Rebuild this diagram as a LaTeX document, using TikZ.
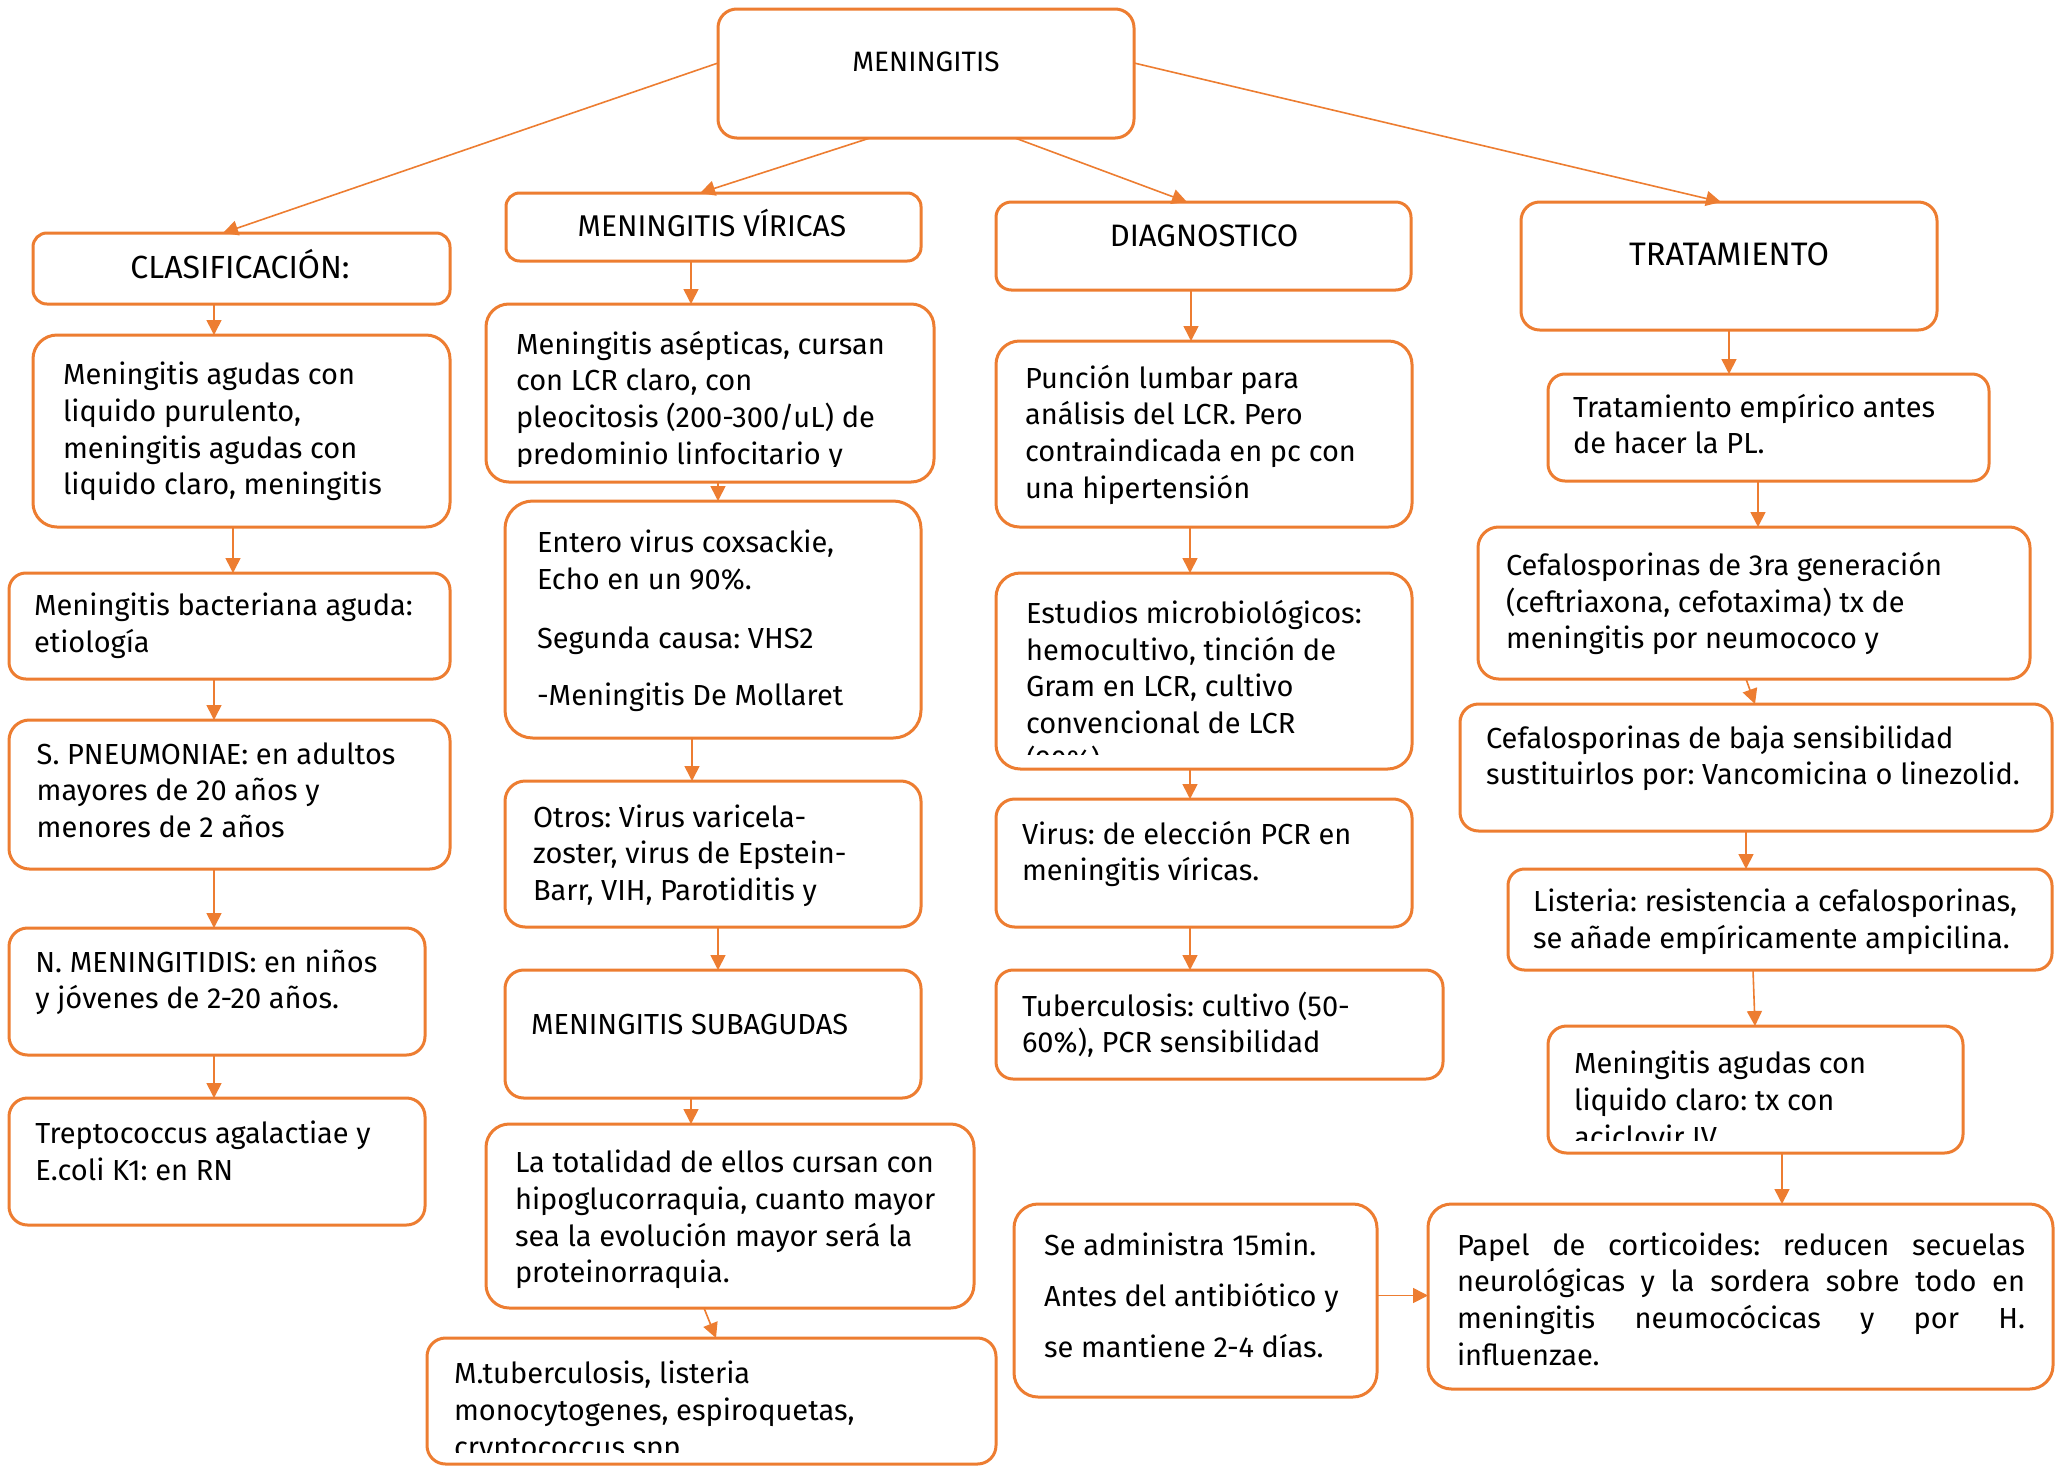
\documentclass[tikz,border=0pt]{standalone}
\usepackage{fontspec}
\setmainfont{Fira Sans}
\usetikzlibrary{arrows.meta}
\definecolor{orng}{HTML}{ED7D31}
\frenchspacing
\newcommand{\rbox}[5]{%
  \pgfmathsetmacro{\rbw}{#4-#2}%
  \pgfmathsetmacro{\rbh}{#5-#3}%
  \pgfmathsetmacro{\rbr}{8+\rbh/12}%
  \node[boxst, minimum width=\rbw pt, minimum height=\rbh pt, rounded corners=\rbr pt] (#1) at ({(#2+#4)/2},{(#3+#5)/2}) {};%
}
\tikzset{
  boxst/.style={draw=orng, line width=3pt, inner sep=0pt, outer sep=0pt, fill=white},
  conn/.style={draw=orng, line width=1.6pt, -{Triangle[length=15pt,width=15pt]}},
  txt/.style={inner sep=0pt, outer sep=0pt, align=left, anchor=north west, yshift=20.5pt,
    execute at begin node={\rule{0pt}{24pt}}, font=\fontsize{29}{36.7}\selectfont},
  head/.style={inner sep=0pt, outer sep=0pt, anchor=base, font=\fontsize{#1}{#1}\selectfont},
}
\begin{document}
\begin{tikzpicture}[x=1pt,y=-1pt]
\fill[white] (0,0) rectangle (2055,1465);
\useasboundingbox (0,0) rectangle (2055,1465);
% top level
\rbox{M0}{718}{9}{1134}{138}
\rbox{C1}{33}{233}{450}{304}
\rbox{V1}{506}{193}{921}{261}
\rbox{D1}{996}{202}{1411}{290}
\rbox{T1}{1521}{202}{1937}{330}
% left column
\rbox{L1}{33}{335}{450}{527}
\rbox{L2}{9}{573}{450}{679}
\rbox{L3}{9}{720}{450}{869}
\rbox{L4}{9}{928}{425}{1055}
\rbox{L5}{9}{1098}{425}{1225}
% middle column
\rbox{V2}{486}{304}{934}{482}
\rbox{V3}{505}{501}{921}{738}
\rbox{V4}{505}{781}{921}{927}
\rbox{V5}{505}{970}{921}{1098}
\rbox{V6}{486}{1124}{974}{1308}
\rbox{V7}{427}{1338}{996}{1464}
% third column
\rbox{D2}{996}{341}{1412}{527}
\rbox{D3}{996}{573}{1412}{769}
\rbox{D4}{996}{799}{1412}{927}
\rbox{D5}{996}{970}{1443}{1079}
\rbox{D6}{1014}{1204}{1377}{1397}
% fourth column
\rbox{T2}{1548}{374}{1989}{481}
\rbox{T3}{1478}{527}{2030}{679}
\rbox{T4}{1460}{704}{2052}{831}
\rbox{T5}{1508}{869}{2052}{970}
\rbox{T6}{1548}{1026}{1963}{1153}
\rbox{T7}{1428}{1204}{2053}{1389}

% headings
\node[head=28] (hM0) at (926,71.7) {MENINGITIS};
\node[head=32] (hC1) at (240,278) {CLASIFICACIÓN:};
\node[head=30] (hV1) at (712,236.7) {MENINGITIS VÍRICAS};
\node[head=31] (hD1) at (1204,246.7) {DIAGNOSTICO};
\node[head=32.5] (hT1) at (1729,265) {TRATAMIENTO};
\node[head=29, anchor=base west] (hV5) at (531,1034) {MENINGITIS SUBAGUDAS};

% body texts
\node[txt] (tL1) at (63,382.7) {Meningitis agudas con\\liquido purulento,\\meningitis agudas con\\liquido claro, meningitis};
\node[txt] (tL2) at (34,613.5) {Meningitis bacteriana aguda:\\etiología};
\node[txt] (tL3) at (36.7,763) {S. PNEUMONIAE: en adultos\\mayores de 20 años y\\menores de 2 años};
\node[txt] (tL4) at (35.4,970) {N. MENINGITIDIS: en niños\\y jóvenes de 2-20 años.};
\node[txt] (tL5) at (35.4,1141.7) {Treptococcus agalactiae y\\E.coli K1: en RN};

\begin{scope}
\clip (486,304) rectangle (934,466);
\node[txt] (tV2) at (516,351.5) {Meningitis asépticas, cursan\\con LCR claro, con\\pleocitosis (200-300/uL) de\\predominio linfocitario y};
\end{scope}
\node[txt] (tV3) at (537,550.7) {Entero virus coxsackie,\\Echo en un 90\%.\\[22pt]Segunda causa: VHS2\\[21pt]-Meningitis De Mollaret};
\node[txt] (tV4) at (533,825) {Otros: Virus varicela-\\zoster, virus de Epstein-\\Barr, VIH, Parotiditis y};
\node[txt] (tV6) at (515,1170.5) {La totalidad de ellos cursan con\\hipoglucorraquia, cuanto mayor\\sea la evolución mayor será la\\proteinorraquia.};
\begin{scope}
\clip (427,1338) rectangle (996,1452);
\node[txt] (tV7) at (454,1381.7) {M.tuberculosis, listeria\\monocytogenes, espiroquetas,\\cryptococcus spp};
\end{scope}

\node[txt] (tD2) at (1025,385.5) {Punción lumbar para\\análisis del LCR. Pero\\contraindicada en pc con\\una hipertensión};
\begin{scope}
\clip (996,573) rectangle (1412,754);
\node[txt] (tD3) at (1026,620.7) {Estudios microbiológicos:\\hemocultivo, tinción de\\Gram en LCR, cultivo\\convencional de LCR\\(90\%)};
\end{scope}
\node[txt] (tD4) at (1022,841.5) {Virus: de elección PCR en\\meningitis víricas.};
\node[txt] (tD5) at (1022,1012) {Tuberculosis: cultivo (50-\\60\%), PCR sensibilidad};
\node[txt, font=\fontsize{29}{51}\selectfont] (tD6) at (1044,1253) {Se administra 15min.\\Antes del antibiótico y\\se mantiene 2-4 días.};

\node[txt] (tT2) at (1573,414.3) {Tratamiento empírico antes\\de hacer la PL.};
\node[txt] (tT3) at (1506,572.7) {Cefalosporinas de 3ra generación\\(ceftriaxona, cefotaxima) tx de\\meningitis por neumococo y};
\node[txt] (tT4) at (1486,745.9) {Cefalosporinas de baja sensibilidad\\sustituirlos por: Vancomicina o linezolid.};
\node[txt] (tT5) at (1533,909.7) {Listeria: resistencia a cefalosporinas,\\se añade empíricamente ampicilina.};
\begin{scope}
\clip (1548,1026) rectangle (1963,1140);
\node[txt] (tT6) at (1574,1071.7) {Meningitis agudas con\\liquido claro: tx con\\aciclovir IV};
\end{scope}
\node[txt, text width=568pt, align=justify] (tT7) at (1457,1251.7) {Papel de corticoides: reducen secuelas\linebreak neurológicas y la sordera sobre todo en\linebreak meningitis neumocócicas y por H.\linebreak influenzae.};

% connectors
\draw[conn] ([yshift=10.5pt]M0.west) -- ([xshift=190pt]C1.north west);
\draw[conn] ([xshift=152pt]M0.south west) -- ([xshift=194pt]V1.north west);
\draw[conn] ([xshift=297pt]M0.south west) -- ([xshift=191pt]D1.north west);
\draw[conn] ([yshift=10.5pt]M0.east) -- ([xshift=200pt]T1.north west);

\draw[conn] ([xshift=181pt]C1.south west) -- ([xshift=181pt]L1.north west);
\draw[conn] ([xshift=200pt]L1.south west) -- ([xshift=224pt]L2.north west);
\draw[conn] ([xshift=205pt]L2.south west) -- ([xshift=205pt]L3.north west);
\draw[conn] ([xshift=205pt]L3.south west) -- ([xshift=205pt]L4.north west);
\draw[conn] ([xshift=205pt]L4.south west) -- ([xshift=205pt]L5.north west);

\draw[conn] ([xshift=185pt]V1.south west) -- ([xshift=205pt]V2.north west);
\draw[conn] ([xshift=232pt]V2.south west) -- ([xshift=213pt]V3.north west);
\draw[conn] ([xshift=187pt]V3.south west) -- ([xshift=187pt]V4.north west);
\draw[conn] ([xshift=213pt]V4.south west) -- ([xshift=213pt]V5.north west);
\draw[conn] ([xshift=186pt]V5.south west) -- ([xshift=205pt]V6.north west);
\draw[conn] ([xshift=218pt]V6.south west) -- ([xshift=289pt]V7.north west);

\draw[conn] ([xshift=195pt]D1.south west) -- ([xshift=195pt]D2.north west);
\draw[conn] ([xshift=194pt]D2.south west) -- ([xshift=194pt]D3.north west);
\draw[conn] ([xshift=194pt]D3.south west) -- ([xshift=194pt]D4.north west);
\draw[conn] ([xshift=194pt]D4.south west) -- ([xshift=194pt]D5.north west);
\draw[conn] ([yshift=5pt]D6.east) -- ([yshift=5pt]D6.east -| T7.west);

\draw[conn] ([xshift=208pt]T1.south west) -- ([xshift=181pt]T2.north west);
\draw[conn] ([xshift=210pt]T2.south west) -- ([xshift=280pt]T3.north west);
\draw[conn] ([xshift=268pt]T3.south west) -- ([xshift=295pt]T4.north west);
\draw[conn] ([xshift=286pt]T4.south west) -- ([xshift=238pt]T5.north west);
\draw[conn] ([xshift=245pt]T5.south west) -- ([xshift=207pt]T6.north west);
\draw[conn] ([xshift=234pt]T6.south west) -- ([xshift=354pt]T7.north west);
\end{tikzpicture}
\end{document}
